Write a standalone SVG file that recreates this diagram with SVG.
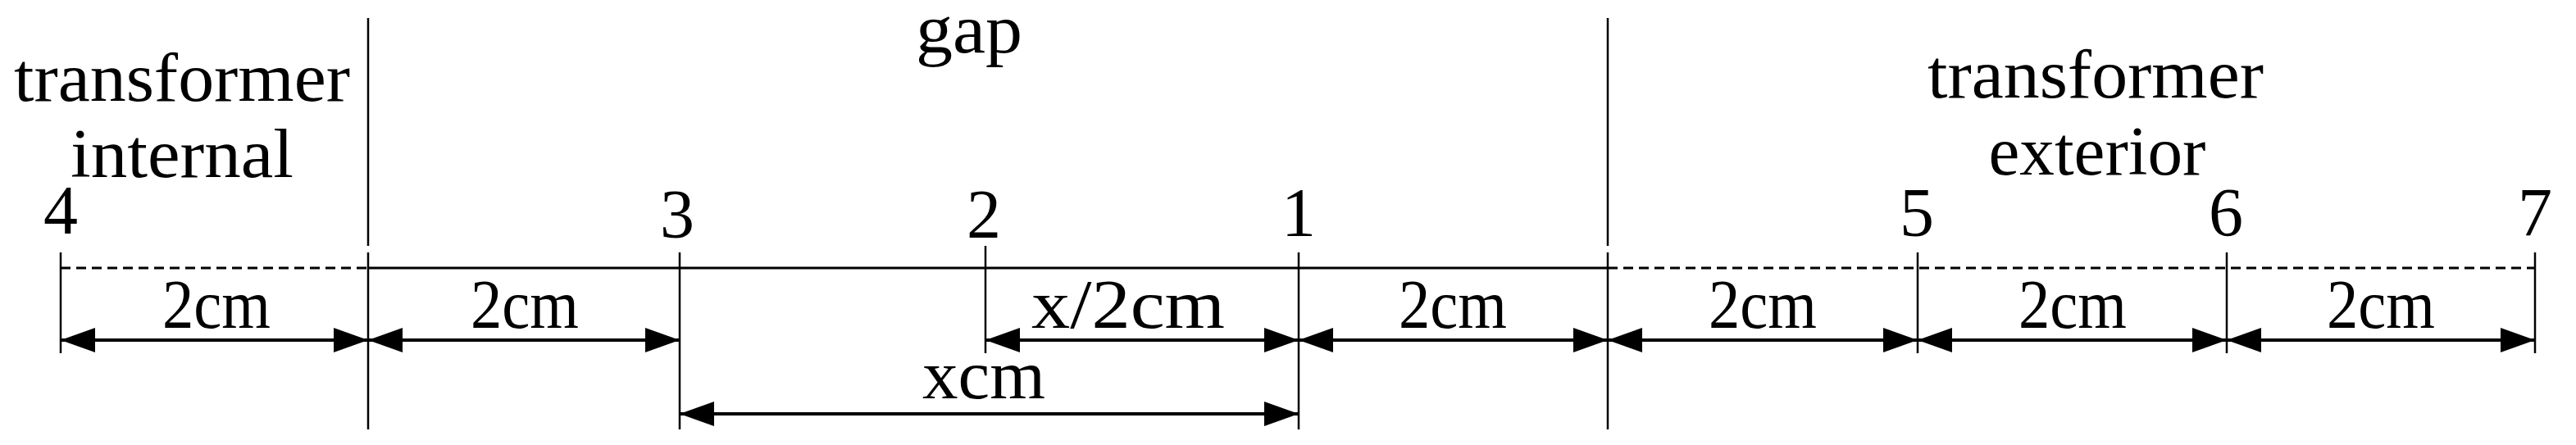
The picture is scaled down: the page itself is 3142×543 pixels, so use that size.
<svg xmlns="http://www.w3.org/2000/svg" width="3142" height="543" viewBox="0 0 3142 543">
<style>
text{font-family:"Liberation Serif",serif;font-size:84px;fill:#000;text-anchor:middle}
.v{stroke:#000;stroke-width:2.5;fill:none}
.d{stroke:#000;stroke-width:3;fill:none}
.dash{stroke-dasharray:12 7}
.a{stroke:#000;stroke-width:4;fill:none;marker-start:url(#ah);marker-end:url(#ah)}
</style>
<defs>
<marker id="ah" viewBox="0 0 42 30" refX="42" refY="15" markerWidth="42" markerHeight="30" markerUnits="userSpaceOnUse" orient="auto-start-reverse">
<path d="M0,0 L42,15 L0,30 Z" fill="#000"/>
</marker>
</defs>
<g id="labels">
<text x="222" y="123" textLength="410" lengthAdjust="spacingAndGlyphs">transformer</text>
<text x="222" y="216" textLength="272" lengthAdjust="spacingAndGlyphs">internal</text>
<text x="1182" y="64" font-size="76" textLength="130" lengthAdjust="spacingAndGlyphs">gap</text>
<text x="2556" y="119" textLength="410" lengthAdjust="spacingAndGlyphs">transformer</text>
<text x="2558" y="213" textLength="265" lengthAdjust="spacingAndGlyphs">exterior</text>
<text x="74" y="285">4</text>
<text x="826" y="290">3</text>
<text x="1200" y="290">2</text>
<text x="1584" y="288">1</text>
<text x="2338" y="288">5</text>
<text x="2715" y="288">6</text>
<text x="3092" y="288">7</text>
</g>
<g id="connectors">
<line class="v" x1="449" y1="22" x2="449" y2="300"/>
<line class="v" x1="449" y1="308" x2="449" y2="524"/>
<line class="v" x1="1961" y1="22" x2="1961" y2="300"/>
<line class="v" x1="1961" y1="308" x2="1961" y2="524"/>
<line class="v" x1="74" y1="308" x2="74" y2="431"/>
<line class="v" x1="829" y1="308" x2="829" y2="524"/>
<line class="v" x1="1202" y1="300" x2="1202" y2="431"/>
<line class="v" x1="1584" y1="308" x2="1584" y2="524"/>
<line class="v" x1="2339" y1="308" x2="2339" y2="431"/>
<line class="v" x1="2716" y1="308" x2="2716" y2="431"/>
<line class="v" x1="3092" y1="308" x2="3092" y2="431"/>
<line class="d dash" x1="74" y1="327" x2="449" y2="327"/>
<line class="d" x1="449" y1="327" x2="1961" y2="327"/>
<line class="d dash" x1="1961" y1="327" x2="3092" y2="327"/>
<line class="a" x1="74" y1="415" x2="449" y2="415"/>
<line class="a" x1="449" y1="415" x2="829" y2="415"/>
<line class="a" x1="1202" y1="415" x2="1584" y2="415"/>
<line class="a" x1="1584" y1="415" x2="1961" y2="415"/>
<line class="a" x1="1961" y1="415" x2="2339" y2="415"/>
<line class="a" x1="2339" y1="415" x2="2716" y2="415"/>
<line class="a" x1="2716" y1="415" x2="3092" y2="415"/>
<line class="a" x1="829" y1="505" x2="1584" y2="505"/>
</g>
<g id="dims">
<text x="264" y="400" textLength="132" lengthAdjust="spacingAndGlyphs">2cm</text>
<text x="640" y="400" textLength="132" lengthAdjust="spacingAndGlyphs">2cm</text>
<text x="1376" y="400" textLength="236" lengthAdjust="spacingAndGlyphs">x/2cm</text>
<text x="1772" y="400" textLength="132" lengthAdjust="spacingAndGlyphs">2cm</text>
<text x="2150" y="400" textLength="132" lengthAdjust="spacingAndGlyphs">2cm</text>
<text x="2528" y="400" textLength="132" lengthAdjust="spacingAndGlyphs">2cm</text>
<text x="2904" y="400" textLength="132" lengthAdjust="spacingAndGlyphs">2cm</text>
<text x="1200" y="486" textLength="150" lengthAdjust="spacingAndGlyphs">xcm</text>
</g>
</svg>
